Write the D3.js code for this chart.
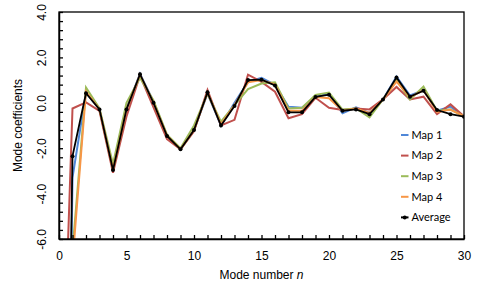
<!DOCTYPE html>
<html>
<head>
<meta charset="utf-8">
<script src="https://cdn.jsdelivr.net/npm/d3@7"></script>
<style>
  body { margin: 0; background: #fff; }
  text { font-family: "Liberation Sans", Arial, sans-serif; }
  .legend text { font-family: Lato, "Open Sans", sans-serif; }
</style>
</head>
<body>
<svg id="chart"></svg>
<script>
// mode numbers 0..30 (mode 0 sits far below the plotted range)
const modes = d3.range(0, 31);

const map1 = [-45, -3.3, 0.45, -0.28, -2.95, -0.25, 1.28, 0.05, -1.45, -2.05, -1.2, 0.4, -1.0, 0.0, 0.92, 1.1, 0.8, -0.17, -0.22, 0.25, 0.4, -0.46, -0.2, -0.45, 0.15, 1.15, 0.32, 0.55, -0.35, -0.17, -0.6];
const map2 = [-18, -0.25, 0.02, -0.36, -3.08, -0.6, 1.2, -0.2, -1.6, -2.05, -1.25, 0.56, -1.0, -0.75, 1.24, 0.92, 0.49, -0.68, -0.5, 0.22, -0.22, -0.32, -0.25, -0.29, 0.15, 0.7, 0.15, 0.27, -0.5, -0.07, -0.6];
const map3 = [-50, -6.5, 0.67, -0.25, -2.7, 0.0, 1.1, 0.1, -1.4, -2.0, -1.0, 0.4, -0.83, -0.1, 0.6, 0.85, 0.9, -0.25, -0.22, 0.35, 0.45, -0.3, -0.25, -0.64, 0.15, 1.0, 0.15, 0.71, -0.35, -0.3, -0.6];
const map4 = [-47, -7.0, 0.5, -0.3, -2.95, -0.3, 1.25, 0.0, -1.45, -2.05, -1.2, 0.45, -0.95, -0.1, 0.9, 1.0, 0.8, -0.35, -0.35, 0.25, 0.2, -0.35, -0.25, -0.45, 0.15, 0.93, 0.25, 0.55, -0.4, -0.3, -0.6];
const average = [-40, -2.35, 0.42, -0.29, -2.96, -0.29, 1.26, 0.0, -1.46, -2.05, -1.2, 0.46, -1.0, -0.14, 1.0, 1.02, 0.76, -0.42, -0.42, 0.26, 0.36, -0.35, -0.29, -0.5, 0.15, 1.12, 0.27, 0.53, -0.32, -0.5, -0.61];

const seriesNames = ["Map 1", "Map 2", "Map 3", "Map 4", "Average"];
const xTickLabels = [0, 5, 10, 15, 20, 25, 30];
const yTickLabels = [-6, -4, -2, 0, 2, 4];

const series = [
    {name: seriesNames[0], values: map1, color: "#4f87d8", width: 2},
    {name: seriesNames[1], values: map2, color: "#c0504d", width: 2},
    {name: seriesNames[2], values: map3, color: "#9bbb59", width: 2},
    {name: seriesNames[3], values: map4, color: "#f79646", width: 2},
    {name: seriesNames[4], values: average, color: "#000000", width: 1.8, marker: true}
];

const W = 480, H = 292;
const margin = {top: 12, right: 16, bottom: 53, left: 59};
const width = W - margin.left - margin.right;
const height = H - margin.top - margin.bottom;

const svg = d3.select("#chart").attr("width", W).attr("height", H);
const chart = svg.append("g").attr("transform", `translate(${margin.left},${margin.top})`);

const x = d3.scaleLinear().domain([0, 30]).range([0, width]);
const y = d3.scaleLinear().domain([-6, 4]).range([height, 0]);

svg.append("defs").append("clipPath").attr("id", "plot-clip")
  .append("rect").attr("width", width).attr("height", height);

// lines
const line = d3.line().x((d, i) => x(modes[i])).y(d => y(d));
const linesG = chart.append("g").attr("clip-path", "url(#plot-clip)");
series.forEach(s => {
    linesG.append("path")
        .datum(s.values)
        .attr("fill", "none")
        .attr("stroke", s.color)
        .attr("stroke-width", s.width)
        .attr("stroke-linejoin", "miter")
        .attr("d", line);
    if (s.marker) {
        linesG.selectAll(".dot")
            .data(s.values)
            .join("circle")
            .attr("class", "dot")
            .attr("cx", (d, i) => x(modes[i]))
            .attr("cy", d => y(d))
            .attr("r", 2)
            .attr("fill", s.color);
    }
});

// frame (top and right)
chart.append("rect")
    .attr("width", width).attr("height", height)
    .attr("fill", "none").attr("stroke", "#000").attr("stroke-width", 1.3);

// axes, ticks inside
const yTicks = d3.range(0, 26).map(i => Math.round((-6 + i * 0.4) * 10) / 10);
const yAxis = d3.axisLeft(y).tickValues(yTicks).tickSizeInner(-4).tickSizeOuter(0)
    .tickFormat(d => yTickLabels.includes(d) ? d.toFixed(1) : "");
const yAxisG = chart.append("g").call(yAxis);
yAxisG.selectAll("text")
    .attr("transform", "rotate(-90)")
    .attr("x", 0).attr("y", -13).attr("dy", 0)
    .attr("text-anchor", "middle")
    .style("font-size", "12px");

const xAxis = d3.axisBottom(x).ticks(30).tickSizeInner(-4).tickSizeOuter(0)
    .tickFormat(d => xTickLabels.includes(d) ? d : "");
const xAxisG = chart.append("g").attr("transform", `translate(0,${height})`).call(xAxis);
xAxisG.selectAll("text").attr("y", 12).style("font-size", "12px");

chart.selectAll(".domain").attr("stroke", "#000").attr("stroke-width", 1.5);
chart.selectAll(".tick line").attr("stroke", "#000").attr("stroke-width", 1.3);
chart.selectAll(".tick text").attr("fill", "#000");

// axis titles
svg.append("text")
    .attr("transform", `translate(22,${margin.top + height / 2}) rotate(-90)`)
    .attr("text-anchor", "middle")
    .style("font-size", "12px")
    .text("Mode coefficients");

const xTitle = svg.append("text")
    .attr("x", margin.left + width / 2)
    .attr("y", 279)
    .attr("text-anchor", "middle")
    .style("font-size", "12px");
xTitle.append("tspan").text("Mode number  ");
xTitle.append("tspan").style("font-style", "italic").text("n");

// legend
const legend = chart.append("g").attr("class", "legend")
    .attr("transform", `translate(${401 - margin.left},${135 - margin.top})`);
series.forEach((s, i) => {
    const g = legend.append("g").attr("transform", `translate(0,${i * 20.6})`);
    g.append("line").attr("x1", 0).attr("x2", 7.5).attr("y1", 0).attr("y2", 0)
        .attr("stroke", s.color).attr("stroke-width", 2);
    if (s.marker) g.append("circle").attr("cx", 3.75).attr("cy", 0).attr("r", 2).attr("fill", s.color);
    g.append("text").attr("x", 10.5).attr("y", 0).attr("dy", "0.35em")
        .style("font-size", "11px").text(s.name);
});
</script>
